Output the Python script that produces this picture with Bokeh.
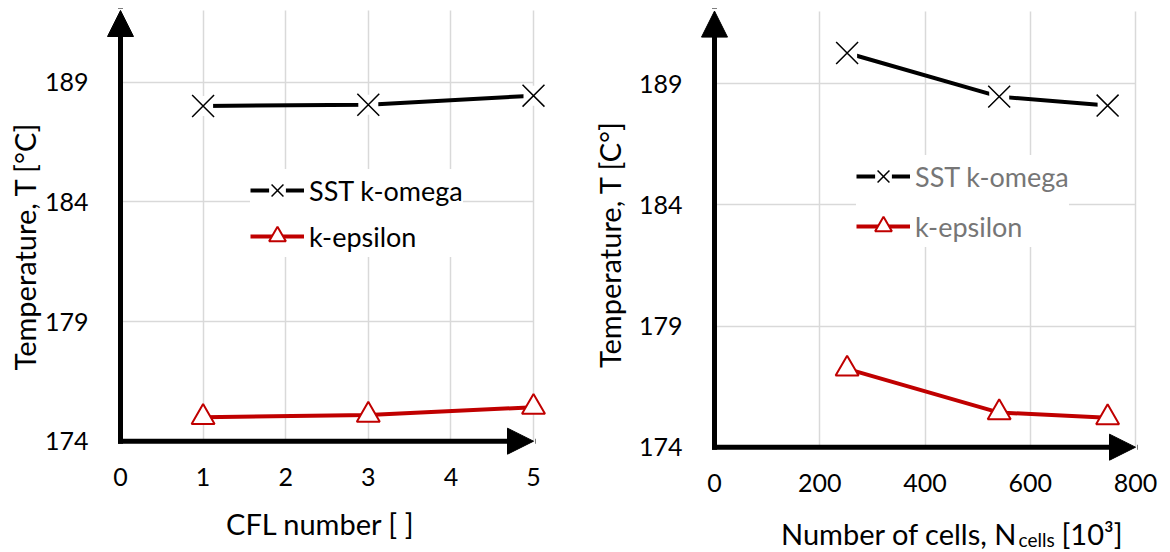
from bokeh.plotting import figure
from bokeh.layouts import row
from bokeh.models import (Range1d, FixedTicker, Arrow, NormalHead, Label,
                          Legend, LegendItem)
from bokeh.embed import file_html
from bokeh.resources import INLINE

# ---------------- data ----------------
cfl = [1, 3, 5]
sst_cfl = [188.01, 188.06, 188.44]
keps_cfl = [175.00, 175.09, 175.42]

cells = [252, 541, 747]
sst_cells = [190.27, 188.47, 188.10]
keps_cells = [177.23, 175.43, 175.22]

y_ticks = [174, 179, 184, 189]
cfl_ticks = [0, 1, 2, 3, 4, 5]
cells_ticks = [0, 200, 400, 600, 800]

series_names = ["SST k-omega", "k-epsilon"]

FONT = "Lato"
RED = "#c00000"
GRID = "#d9d9d9"
H = 552
Y_MIN, Y_MAX = 174, 192


def axis_range(p_lo, p_hi, v_lo, v_hi, total):
    """Range whose v_lo..v_hi fall at pixels p_lo..p_hi of a full-size frame."""
    s = (p_hi - p_lo) / (v_hi - v_lo)
    return Range1d(v_lo - p_lo / s, v_hi + (total - p_hi) / s)


def build(xs, sst, keps, x_end, x_ticks, width, px_x, px_y, legend_loc,
          legend_spacing, legend_color):
    xr = axis_range(px_x[0], px_x[1], 0, x_end, width)
    yr = axis_range(H - px_y[0], H - px_y[1], Y_MIN, Y_MAX, H)
    p = figure(width=width, height=H, output_backend="svg",
               toolbar_location=None, x_range=xr, y_range=yr,
               min_border=0, min_border_left=0, min_border_right=0,
               min_border_top=0, min_border_bottom=0)
    p.outline_line_color = None
    p.background_fill_color = "white"
    p.border_fill_color = "white"

    xa, ya = p.xaxis[0], p.yaxis[0]
    xa.fixed_location = Y_MIN
    ya.fixed_location = 0
    for ax in (xa, ya):
        ax.axis_line_color = None
        ax.major_tick_line_color = None
        ax.minor_tick_line_color = None
        ax.major_label_text_font = FONT
        ax.major_label_text_font_size = "25px"
        ax.major_label_text_color = "black"
    xa.ticker = FixedTicker(ticks=x_ticks)
    ya.ticker = FixedTicker(ticks=y_ticks)
    xa.major_label_standoff = 21
    ya.major_label_standoff = 26

    xg, yg = p.xgrid[0], p.ygrid[0]
    xg.ticker = FixedTicker(ticks=x_ticks)
    yg.ticker = FixedTicker(ticks=y_ticks)
    xg.cross_bounds = (Y_MIN, Y_MAX)
    yg.cross_bounds = (0, x_end)
    for g in (xg, yg):
        g.grid_line_color = GRID
        g.grid_line_width = 1.5

    l1 = p.line(xs, sst, line_color="black", line_width=4)
    m1b = p.scatter(xs, sst, marker="square", size=20, fill_color="white",
                    line_color=None)
    m1 = p.scatter(xs, sst, marker="x", size=31, line_color="black",
                   line_width=1.5)
    l2 = p.line(xs, keps, line_color=RED, line_width=4)
    m2 = p.scatter(xs, keps, marker="triangle", size=23, fill_color="white",
                   line_color=RED, line_width=2)

    legend = Legend(items=[
        LegendItem(label=series_names[0], renderers=[l1, m1b, m1]),
        LegendItem(label=series_names[1], renderers=[l2, m2]),
    ], location=legend_loc)
    legend.background_fill_color = "white"
    legend.background_fill_alpha = 1.0
    legend.border_line_color = None
    legend.label_text_font = FONT
    legend.label_text_font_size = "27px"
    legend.label_text_color = legend_color
    legend.glyph_width = 54
    legend.glyph_height = 42
    legend.label_height = 42
    legend.label_standoff = 5
    legend.spacing = legend_spacing
    legend.padding = 8
    legend.margin = 0
    p.add_layout(legend)

    # axes drawn as arrows
    head = dict(size=26, fill_color="black", line_color="black", line_width=1)
    p.add_layout(Arrow(end=NormalHead(**head), x_start=0, y_start=Y_MIN,
                       x_end=0, y_end=Y_MAX, line_width=5,
                       line_color="black", line_cap="square"))
    p.add_layout(Arrow(end=NormalHead(**head), x_start=0, y_start=Y_MIN,
                       x_end=x_end, y_end=Y_MIN, line_width=5,
                       line_color="black", line_cap="square"))
    return p


left = build(cfl, sst_cfl, keps_cfl, 5, cfl_ticks, 590,
             (120, 533), (440.7, 10), (250, 295), 4, "black")
right = build(cells, sst_cells, keps_cells, 800, cells_ticks, 580,
              (124, 545), (446.7, 10.6), (266, 305), 8, "#767676")

# axis titles
title_kw = dict(text_font=FONT, text_font_size="29px", text_color="black")
left.add_layout(Label(x=0, y=Y_MIN, x_offset=-96, y_offset=195,
                      text="Temperature, T [°C]", angle=90, angle_units="deg",
                      text_align="center", text_baseline="alphabetic",
                      **title_kw))
left.add_layout(Label(x=0, y=Y_MIN, x_offset=200, y_offset=-82,
                      text="CFL number [ ]", text_align="center",
                      text_baseline="alphabetic", **title_kw))
right.add_layout(Label(x=0, y=Y_MIN, x_offset=-105, y_offset=203,
                       text="Temperature, T [C°]", angle=90, angle_units="deg",
                       text_align="center", text_baseline="alphabetic",
                       **title_kw))
right.add_layout(Label(x=0, y=Y_MIN, x_offset=303, y_offset=-86,
                       text="Number of cells, N", text_align="right",
                       text_baseline="alphabetic", **title_kw))
right.add_layout(Label(x=0, y=Y_MIN, x_offset=304, y_offset=-92,
                       text="cells", text_align="left",
                       text_baseline="alphabetic", text_font=FONT,
                       text_font_size="19px", text_color="black"))
right.add_layout(Label(x=0, y=Y_MIN, x_offset=347, y_offset=-86,
                       text="[10³]", text_align="left",
                       text_baseline="alphabetic", **title_kw))

layout = row(left, right, spacing=0)
open("out.html", "w").write(file_html(layout, INLINE))
